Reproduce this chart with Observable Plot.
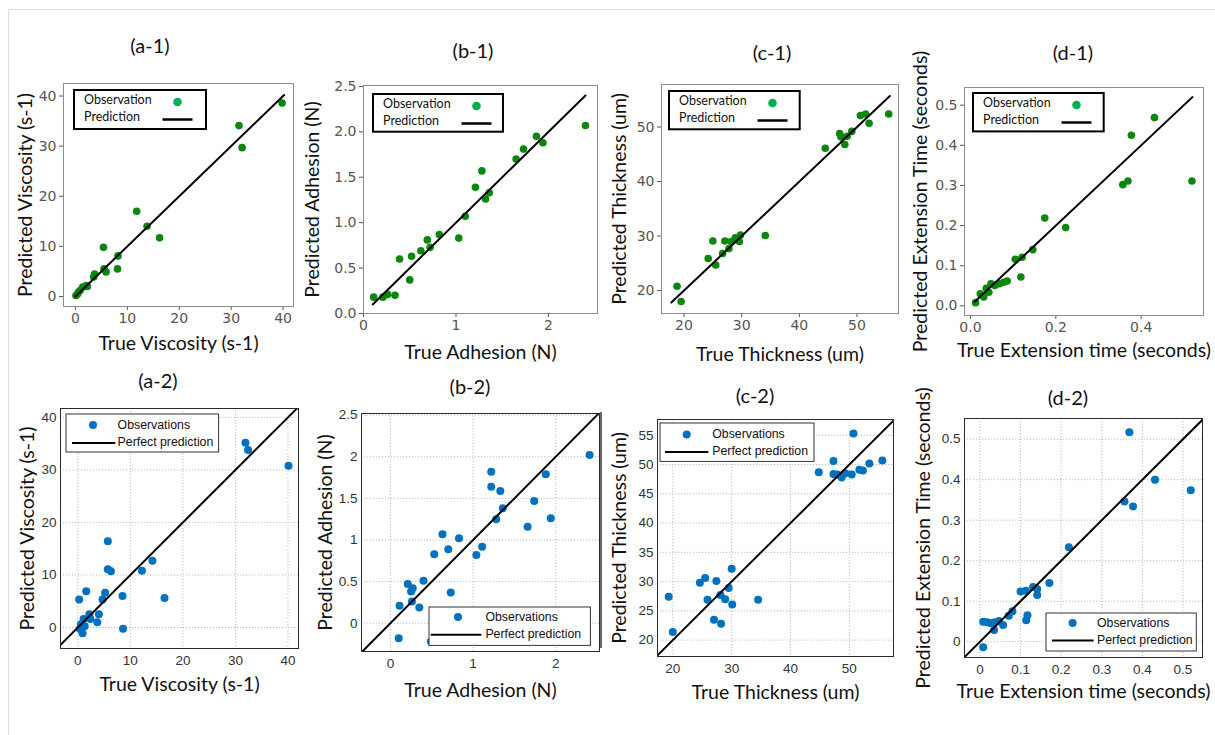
<!DOCTYPE html>
<html><head><meta charset="utf-8">
<script src="https://cdn.jsdelivr.net/npm/d3@7"></script>
<script src="https://cdn.jsdelivr.net/npm/@observablehq/plot@0.6"></script>
<style>
body{margin:0;background:#fff;}
#page{position:relative;width:1215px;height:735px;overflow:hidden;background:#fff;}
.panel{position:absolute;}
.ttl{position:absolute;font-family:Lato,sans-serif;font-size:20px;color:#111;transform:translate(-50%,-50%);white-space:nowrap;}
.legend{position:absolute;overflow:visible;}
.panel g[aria-label="x-axis label"], .panel g[aria-label="y-axis label"]{font-family:Lato,sans-serif;font-size:19.5px;}
.panel g[aria-label="x-axis label"] text, .panel g[aria-label="y-axis label"] text{fill:#111;}
</style>
</head><body><div id="page"></div>
<script>
// ---------- data ----------
const a1True = [39.8, 31.5, 32.1, 11.8, 13.8, 16.2, 5.4, 8.2, 8.1, 5.9, 5.5, 3.7, 3.5, 2.3, 2.1, 1.4, 0.9, 0.6, 0.4, 0.1];
const a1Pred = [38.6, 34.1, 29.7, 17.0, 14.0, 11.7, 9.8, 8.1, 5.5, 4.9, 5.5, 4.5, 3.9, 2.0, 2.2, 1.9, 1.2, 0.9, 0.5, 0.2];
const b1True = [0.11, 0.21, 0.26, 0.34, 0.39, 0.50, 0.52, 0.62, 0.69, 0.72, 0.82, 1.03, 1.10, 1.21, 1.28, 1.32, 1.36, 1.65, 1.73, 1.87, 1.94, 2.40];
const b1Pred = [0.18, 0.18, 0.21, 0.20, 0.60, 0.37, 0.63, 0.69, 0.81, 0.73, 0.87, 0.83, 1.07, 1.39, 1.57, 1.26, 1.33, 1.70, 1.81, 1.95, 1.88, 2.07];
const c1True = [18.8, 19.5, 24.2, 25.0, 25.5, 26.7, 27.1, 27.8, 28.2, 28.9, 29.2, 29.6, 29.8, 34.1, 44.5, 47.0, 47.2, 47.9, 48.3, 49.1, 50.6, 51.5, 52.1, 55.5];
const c1Pred = [20.8, 18.0, 25.9, 29.1, 24.7, 26.8, 29.1, 27.7, 29.0, 29.7, 29.5, 29.0, 30.2, 30.1, 46.1, 48.8, 48.2, 46.8, 48.3, 49.2, 52.1, 52.4, 50.7, 52.4];
const d1True = [0.012, 0.023, 0.031, 0.037, 0.043, 0.048, 0.057, 0.068, 0.078, 0.086, 0.105, 0.118, 0.121, 0.146, 0.174, 0.223, 0.357, 0.369, 0.377, 0.431, 0.519];
const d1Pred = [0.008, 0.030, 0.022, 0.044, 0.034, 0.055, 0.051, 0.055, 0.059, 0.062, 0.116, 0.072, 0.121, 0.140, 0.219, 0.195, 0.302, 0.311, 0.425, 0.469, 0.311];

const a2True = [0.25, 1.6, 0.4, 0.6, 1.1, 0.9, 1.3, 2.2, 2.4, 3.7, 4.0, 4.7, 5.2, 5.7, 5.7, 6.3, 8.5, 8.6, 12.2, 14.2, 16.5, 31.9, 32.4, 40.1];
const a2Pred = [5.35, 6.9, -0.3, 0.6, 1.6, -1.1, 0.25, 2.5, 1.6, 1.0, 2.5, 5.35, 6.6, 16.4, 11.1, 10.7, 6.0, -0.25, 10.8, 12.7, 5.6, 35.2, 33.8, 30.8];
const b2True = [0.10, 0.11, 0.21, 0.27, 0.25, 0.26, 0.35, 0.40, 0.49, 0.53, 0.63, 0.70, 0.73, 0.83, 1.04, 1.11, 1.22, 1.22, 1.28, 1.33, 1.36, 1.66, 1.74, 1.88, 1.94, 2.41];
const b2Pred = [-0.18, 0.21, 0.47, 0.42, 0.38, 0.26, 0.19, 0.51, -0.22, 0.83, 1.07, 0.89, 0.37, 1.02, 0.82, 0.92, 1.82, 1.64, 1.25, 1.59, 1.38, 1.16, 1.47, 1.79, 1.26, 2.02];
const c2True = [19.3, 20.0, 24.6, 25.5, 25.9, 27.4, 27.0, 28.2, 28.1, 28.9, 29.5, 30.0, 30.1, 34.5, 44.8, 47.3, 47.3, 48.0, 48.7, 49.3, 50.4, 50.7, 51.7, 52.3, 53.4, 55.6];
const c2Pred = [27.4, 21.4, 29.8, 30.6, 26.9, 30.1, 23.5, 22.8, 27.7, 27.0, 28.9, 32.2, 26.1, 26.9, 48.7, 50.6, 48.4, 48.3, 47.8, 48.5, 48.3, 55.3, 49.1, 49.0, 50.2, 50.7];
const d2True = [0.008, 0.008, 0.018, 0.026, 0.035, 0.037, 0.047, 0.057, 0.071, 0.080, 0.100, 0.113, 0.114, 0.117, 0.131, 0.141, 0.141, 0.171, 0.219, 0.356, 0.368, 0.377, 0.431, 0.519];
const d2Pred = [-0.014, 0.049, 0.048, 0.046, 0.029, 0.048, 0.051, 0.041, 0.064, 0.075, 0.124, 0.126, 0.053, 0.065, 0.135, 0.130, 0.115, 0.145, 0.233, 0.346, 0.517, 0.334, 0.400, 0.374];

// perfect-prediction line end points (y = x)
const a1Diag = [0, 40.2], b1Diag = [0.1, 2.4], c1Diag = [17.8, 55.7], d1Diag = [0.01, 0.52];
const a2Diag = [-5, 45], b2Diag = [-0.5, 3], c2Diag = [15, 60], d2Diag = [-0.1, 0.6];

// tick values
const a1Ticks = [0, 10, 20, 30, 40];
const b1XTicks = [0, 1, 2], b1YTicks = [0, 0.5, 1, 1.5, 2, 2.5];
const c1Ticks = [20, 30, 40, 50];
const d1XTicks = [0, 0.2, 0.4], d1YTicks = [0, 0.1, 0.2, 0.3, 0.4, 0.5];
const a2Ticks = [0, 10, 20, 30, 40];
const b2XTicks = [0, 1, 2], b2YTicks = [0, 0.5, 1, 1.5, 2, 2.5];
const c2XTicks = [20, 30, 40, 50], c2YTicks = [20, 25, 30, 35, 40, 45, 50, 55];
const d2Ticks = [0, 0.1, 0.2, 0.3, 0.4, 0.5];

// titles and labels
const titles = ["(a-1)", "(b-1)", "(c-1)", "(d-1)", "(a-2)", "(b-2)", "(c-2)", "(d-2)"];
const xLabels = ["True Viscosity (s-1)", "True Adhesion (N)", "True Thickness (um)", "True Extension time (seconds)"];
const yLabels = ["Predicted Viscosity (s-1)", "Predicted Adhesion (N)", "Predicted Thickness (um)", "Predicted Extension Time (seconds)"];
const topLegend = ["Observation", "Prediction"];
const bottomLegend = ["Observations", "Perfect prediction"];

// ---------- layout ----------
const f1 = d3.format(".1f");
const plain = d => String(d);
const panels = [
  {row:"top", xs:a1True, ys:a1Pred, diag:a1Diag, xd:[-2.3,42], yd:[-2,42.5], xt:a1Ticks, yt:a1Ticks, xf:plain, yf:plain,
   box:[0,60,300,310], fr:[63,293,83,306], xlo:43, ylo:45, xl:0, yl:0},
  {row:"top", xs:b1True, ys:b1Pred, diag:b1Diag, xd:[0,2.53], yd:[0,2.51], xt:b1XTicks, yt:b1YTicks, xf:plain, yf:f1,
   box:[300,60,300,310], fr:[363,597,85,313], xlo:45, ylo:58, xl:1, yl:1},
  {row:"top", xs:c1True, ys:c1Pred, diag:c1Diag, xd:[16.1,57.2], yd:[15.8,57.8], xt:c1Ticks, yt:c1Ticks, xf:plain, yf:plain,
   box:[600,60,300,310], fr:[661,898,84,313], xlo:47, ylo:49, xl:2, yl:2},
  {row:"top", xs:d1True, ys:d1Pred, diag:d1Diag, xd:[-0.014,0.546], yd:[-0.024,0.544], xt:d1XTicks, yt:d1YTicks, xf:f1, yf:f1,
   box:[900,60,315,310], fr:[964,1203,87,315], xlo:41, ylo:51, xl:3, yl:3},
  {row:"bottom", xs:a2True, ys:a2Pred, diag:a2Diag, xd:[-3.3,42], yd:[-4,41.7], xt:a2Ticks, yt:a2Ticks, xf:plain, yf:plain,
   box:[0,400,300,320], fr:[60,298,408,648], xlo:42, ylo:40, xl:0, yl:0},
  {row:"bottom", xs:b2True, ys:b2Pred, diag:b2Diag, xd:[-0.35,2.53], yd:[-0.34,2.52], xt:b2XTicks, yt:b2YTicks, xf:plain, yf:plain,
   box:[300,400,300,320], fr:[361,599,413,651], xlo:45, ylo:43, xl:1, yl:1},
  {row:"bottom", xs:c2True, ys:c2Pred, diag:c2Diag, xd:[17.4,57.5], yd:[17.2,57.7], xt:c2XTicks, yt:c2YTicks, xf:plain, yf:plain,
   box:[600,400,300,320], fr:[657,893,419,656], xlo:42, ylo:45, xl:2, yl:2},
  {row:"bottom", xs:d2True, ys:d2Pred, diag:d2Diag, xd:[-0.038,0.548], yd:[-0.039,0.551], xt:d2Ticks, yt:d2Ticks, xf:plain, yf:plain,
   box:[900,400,315,320], fr:[964,1202,418,657], xlo:40, ylo:48, xl:3, yl:3}
];
const titlePos = [[150,45],[473,50],[772,52],[1073,52],[158,380],[470,386],[755,395],[1068,397]];
// legend boxes: [left, top, width, height]
const legendBoxes = [
  [74,90,132,39],[372.7,94,130,37.7],[669.3,90.7,130.7,38.3],[973.3,93.3,130.7,38.4],
  [65.7,414.3,152.6,38],[429.3,607.3,161.4,38.4],[660,423.3,154,38.4],[1045.7,612.7,150.3,38]
];

const page = d3.select("#page");
// figure border
page.append("div").style("position","absolute").style("left","8px").style("top","9px")
  .style("width","1210px").style("height","730px")
  .style("border-top","1.5px solid #e0e0e0").style("border-left","1.5px solid #e0e0e0");
page.append("div").style("position","absolute").style("left","600px").style("top","412px")
  .style("width","1.5px").style("height","236px").style("background","#666");

panels.forEach((p, i) => {
  const top = p.row === "top";
  const [bx, by, bw, bh] = p.box;
  const [L, R, T, B] = p.fr;
  const data = p.xs.map((x, k) => ({x, y: p.ys[k]}));
  const diag = p.diag.map(v => ({x: v, y: v}));
  const tickFont = top ? "DejaVu Sans" : "Liberation Sans";
  const tickColor = top ? "#555" : "#333";
  const marks = [];
  if (!top) {
    marks.push(Plot.gridX({ticks: p.xt, stroke: "#bdbdbd", strokeOpacity: 1, strokeDasharray: "1.2,1.8"}));
    marks.push(Plot.gridY({ticks: p.yt, stroke: "#bdbdbd", strokeOpacity: 1, strokeDasharray: "1.2,1.8"}));
  }
  marks.push(Plot.axisX({ticks: p.xt, tickFormat: p.xf, tickSize: top ? 4 : 0, tickPadding: top ? 3 : 7,
    fontSize: top ? 14 : 13.5, fontFamily: tickFont, color: tickColor,
    label: xLabels[p.xl], labelAnchor: "center", labelOffset: p.xlo, labelArrow: false}));
  marks.push(Plot.axisY({ticks: p.yt, tickFormat: p.yf, tickSize: top ? 4 : 0, tickPadding: top ? 3 : 4,
    fontSize: top ? 14 : 13.5, fontFamily: tickFont, color: tickColor,
    label: yLabels[p.yl], labelAnchor: "center", labelOffset: p.ylo, labelArrow: false}));
  marks.push(Plot.dot(data, {x: "x", y: "y", r: top ? 3.8 : 4, fill: top ? "#0b870b" : "#0072BD", stroke: "none"}));
  marks.push(Plot.line(diag, {x: "x", y: "y", stroke: "#000", strokeWidth: 2, clip: true}));
  marks.push(Plot.frame({stroke: top ? "#8c8c8c" : "#2a2a2a", strokeWidth: 1}));
  const svg = Plot.plot({
    width: bw, height: bh,
    marginLeft: L - bx, marginRight: bx + bw - R, marginTop: T - by, marginBottom: by + bh - B,
    x: {domain: p.xd}, y: {domain: p.yd},
    style: {overflow: "visible", background: "transparent", maxWidth: "none"},
    marks
  });
  page.append("div").attr("class", "panel").style("left", bx + "px").style("top", by + "px")
    .style("width", bw + "px").style("height", bh + "px").node().appendChild(svg);

  // title
  page.append("div").attr("class", "ttl").style("left", titlePos[i][0] + "px").style("top", titlePos[i][1] + "px").text(titles[i]);

  // legend
  const [lx, ly, lw, lh] = legendBoxes[i];
  const lg = page.append("svg").attr("class", "legend").style("left", (lx - 2) + "px").style("top", (ly - 2) + "px")
    .attr("width", lw + 4).attr("height", lh + 4).append("g").attr("transform", "translate(2,2)");
  if (top) {
    lg.append("rect").attr("width", lw).attr("height", lh).attr("fill", "#fff").attr("stroke", "#000").attr("stroke-width", 2);
    const tf = g => g.attr("font-family", "Lato, sans-serif").attr("font-size", 12.5).attr("fill", "#111").attr("dominant-baseline", "middle");
    lg.append("text").attr("x", 10).attr("y", 11).text(topLegend[0]).call(tf);
    lg.append("text").attr("x", 10).attr("y", 28).text(topLegend[1]).call(tf);
    lg.append("circle").attr("cx", 103.5).attr("cy", 12).attr("r", 4.3).attr("fill", "#00b050");
    lg.append("line").attr("x1", 88.5).attr("x2", 118.5).attr("y1", 29.5).attr("y2", 29.5).attr("stroke", "#000").attr("stroke-width", 2.5);
  } else {
    lg.append("rect").attr("width", lw).attr("height", lh).attr("fill", "#fff").attr("stroke", "#333").attr("stroke-width", 1);
    const tf = g => g.attr("font-family", "Liberation Sans, Arial, sans-serif").attr("font-size", 12.3).attr("fill", "#111").attr("dominant-baseline", "middle");
    const tx = [51.6, 56.4, 52.3, 51][i - 4];
    const cx = [27, 29, 26.7, 26.6][i - 4];
    const l1 = [[6, 49.3], [1.7, 52.4], [5, 48.3], [6, 47.6]][i - 4];
    const r1 = [11, 10, 11.4, 10][i - 4];
    const r2 = [29, 27.7, 29, 27.6][i - 4];
    lg.append("text").attr("x", tx).attr("y", r1 + 0.5).text(bottomLegend[0]).call(tf);
    lg.append("text").attr("x", tx).attr("y", r2).text(bottomLegend[1]).call(tf);
    lg.append("circle").attr("cx", cx).attr("cy", r1).attr("r", 4).attr("fill", "#0072BD");
    lg.append("line").attr("x1", l1[0]).attr("x2", l1[1]).attr("y1", r2).attr("y2", r2).attr("stroke", "#000").attr("stroke-width", 2);
  }
});
</script>
</body></html>
